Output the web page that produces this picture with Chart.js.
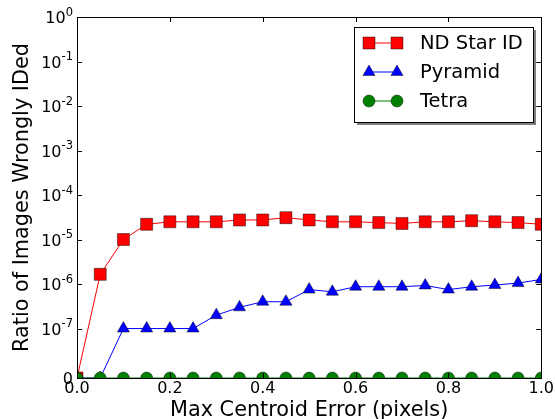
<!DOCTYPE html>
<html>
<head>
<meta charset="utf-8">
<script src="https://cdn.jsdelivr.net/npm/chart.js@4.4.1/dist/chart.umd.min.js"></script>
<style>
  body { margin: 0; background: #fff; }
</style>
</head>
<body>
<canvas id="chart" width="555" height="419"></canvas>
<script>
// Data
const centroidError = [0, 0.05, 0.1, 0.15, 0.2, 0.25, 0.3, 0.35, 0.4, 0.45, 0.5,
  0.55, 0.6, 0.65, 0.7, 0.75, 0.8, 0.85, 0.9, 0.95, 1.0];
const ndStarId = [0, 1.65e-6, 1.0e-5, 2.2e-5, 2.5e-5, 2.5e-5, 2.5e-5, 2.75e-5, 2.75e-5, 3.1e-5, 2.75e-5,
  2.5e-5, 2.5e-5, 2.4e-5, 2.3e-5, 2.5e-5, 2.5e-5, 2.65e-5, 2.5e-5, 2.4e-5, 2.2e-5];
const pyramid = [0, 0, 1e-7, 1e-7, 1e-7, 1e-7, 2e-7, 3e-7, 4e-7, 4e-7, 7.5e-7,
  6.7e-7, 8.7e-7, 8.7e-7, 8.7e-7, 9.3e-7, 7.5e-7, 8.7e-7, 9.5e-7, 1.05e-6, 1.27e-6];
const tetra = [0, 0, 0, 0, 0, 0, 0, 0, 0, 0, 0,
  0, 0, 0, 0, 0, 0, 0, 0, 0, 0];

const yTicks = [0, 1e-7, 1e-6, 1e-5, 1e-4, 1e-3, 1e-2, 1e-1, 1];
const yTickLabels = ['0', '10^-7', '10^-6', '10^-5', '10^-4', '10^-3', '10^-2', '10^-1', '10^0'];

// symlog axis, like matplotlib (linthresh 1e-7, linscale 1)
const LINTHRESH = 1e-7;
const LINSCALE = 1 / (1 - 1 / 10);
const fwd = v => v >= LINTHRESH ? Math.log10(v / LINTHRESH) + LINSCALE : (v / LINTHRESH) * LINSCALE;
const inv = t => t >= LINSCALE ? LINTHRESH * Math.pow(10, t - LINSCALE) : (t / LINSCALE) * LINTHRESH;

class SymlogScale extends Chart.Scale {
  static id = 'symlog';
  static defaults = {};
  determineDataLimits() {
    this.min = this.options.min;
    this.max = this.options.max;
  }
  buildTicks() {
    return yTicks.map(v => ({ value: v }));
  }
  getLabelForValue(v) {
    return String(v);
  }
  configure() {
    super.configure();
    this._t0 = fwd(this.min);
    this._t1 = fwd(this.max);
  }
  getPixelForValue(v) {
    if (v === null || isNaN(v)) return NaN;
    return this.getPixelForDecimal((fwd(v) - this._t0) / (this._t1 - this._t0));
  }
  getValueForPixel(p) {
    return inv(this._t0 + this.getDecimalForPixel(p) * (this._t1 - this._t0));
  }
}
Chart.register(SymlogScale);

Chart.defaults.font.family = 'DejaVu Sans';
Chart.defaults.color = '#000';

const toPoints = ys => centroidError.map((x, i) => ({ x: x, y: ys[i] }));

// inward ticks on all four sides, the box, and the 10^n labels with real superscripts
const framePlugin = {
  id: 'frame',
  afterDatasetsDraw(chart) {
    const { ctx, chartArea: a, scales } = chart;
    ctx.save();
    ctx.strokeStyle = '#000';
    ctx.lineWidth = 1;
    ctx.beginPath();
    scales.y.ticks.forEach(t => {
      const py = Math.round(scales.y.getPixelForValue(t.value)) + 0.5;
      ctx.moveTo(a.left, py); ctx.lineTo(a.left + 5, py);
      ctx.moveTo(a.right, py); ctx.lineTo(a.right - 5, py);
    });
    scales.x.ticks.forEach(t => {
      const px = Math.round(scales.x.getPixelForValue(t.value)) + 0.5;
      ctx.moveTo(px, a.bottom); ctx.lineTo(px, a.bottom - 5);
      ctx.moveTo(px, a.top); ctx.lineTo(px, a.top + 5);
    });
    ctx.stroke();
    ctx.strokeRect(Math.round(a.left) + 0.5, Math.round(a.top) + 0.5,
      Math.round(a.right - a.left), Math.round(a.bottom - a.top));

    // y tick labels
    ctx.fillStyle = '#000';
    ctx.textAlign = 'right';
    ctx.textBaseline = 'alphabetic';
    const xr = a.left - 4;
    scales.y.ticks.forEach(t => {
      const py = scales.y.getPixelForValue(t.value);
      const [base, exp] = yTickLabels[yTicks.indexOf(t.value)].split('^');
      if (exp === undefined) {
        ctx.font = '16px "DejaVu Sans"';
        ctx.fillText(base, xr, py + 6);
        return;
      }
      ctx.font = '11.5px "DejaVu Sans"';
      const ew = ctx.measureText(exp).width;
      ctx.fillText(exp, xr, py - 1.5);
      ctx.font = '16px "DejaVu Sans"';
      ctx.fillText(base, xr - ew, py + 6);
    });
    ctx.restore();
  }
};

// matplotlib style legend: line with two markers, shadowed box
const legendPlugin = {
  id: 'mplLegend',
  afterDraw(chart) {
    const { ctx } = chart;
    const box = { x: 354, y: 27, w: 179, h: 95 };
    ctx.save();
    ctx.fillStyle = '#7f7f7f';
    ctx.fillRect(box.x + 3, box.y + 3, box.w, box.h);
    ctx.fillStyle = '#fff';
    ctx.fillRect(box.x, box.y, box.w, box.h);
    ctx.strokeStyle = '#000';
    ctx.lineWidth = 1;
    ctx.strokeRect(box.x + 0.5, box.y + 0.5, box.w, box.h);
    chart.data.datasets.forEach((ds, i) => {
      const cy = 43 + i * 29;
      ctx.strokeStyle = ds.borderColor;
      ctx.lineWidth = ds.borderWidth;
      ctx.beginPath();
      ctx.moveTo(369, cy); ctx.lineTo(397, cy);
      ctx.stroke();
      [369, 397].forEach(cx => {
        ctx.fillStyle = ds.pointBackgroundColor;
        ctx.strokeStyle = ds.pointBorderColor;
        ctx.lineWidth = ds.pointBorderWidth;
        Chart.helpers.drawPoint(ctx, {
          pointStyle: ds.pointStyle, radius: ds.pointRadius, borderWidth: ds.pointBorderWidth, rotation: 0
        }, cx, cy);
      });
      ctx.fillStyle = '#000';
      ctx.font = '19.5px "DejaVu Sans"';
      ctx.textBaseline = 'middle';
      ctx.fillText(ds.label, 420, cy + 1);
    });
    ctx.restore();
  }
};

new Chart(document.getElementById('chart'), {
  type: 'line',
  data: {
    datasets: [
      {
        label: 'ND Star ID', data: toPoints(ndStarId),
        borderColor: '#ff0000', borderWidth: 1, pointStyle: 'rect', pointRadius: 8.5,
        pointBackgroundColor: '#ff0000', pointBorderColor: 'rgba(0,0,0,0.75)', pointBorderWidth: 0.6,
        order: 2, clip: 0
      },
      {
        label: 'Pyramid', data: toPoints(pyramid),
        borderColor: '#0000ff', borderWidth: 1, pointStyle: 'triangle', pointRadius: 7,
        pointBackgroundColor: '#0000ff', pointBorderColor: 'rgba(0,0,0,0.75)', pointBorderWidth: 0.6,
        order: 1, clip: 0
      },
      {
        label: 'Tetra', data: toPoints(tetra),
        borderColor: '#008000', borderWidth: 1, pointStyle: 'circle', pointRadius: 6,
        pointBackgroundColor: '#008000', pointBorderColor: 'rgba(0,0,0,0.75)', pointBorderWidth: 0.6,
        order: 0, clip: 0
      }
    ]
  },
  options: {
    responsive: false,
    animation: false,
    layout: { padding: { left: 0, top: 17, right: 13, bottom: 0 } },
    plugins: { legend: { display: false }, tooltip: { enabled: false } },
    scales: {
      x: {
        type: 'linear', min: 0, max: 1,
        afterFit(scale) { scale.height = 41; },
        ticks: { stepSize: 0.2, padding: 1, font: { size: 16 }, callback: v => v.toFixed(1) },
        grid: { display: false, drawTicks: false },
        border: { display: false },
        title: {
          display: true, text: 'Max Centroid Error (pixels)',
          font: { size: 20.8, lineHeight: 0.8 }, padding: { top: 0, bottom: 0 }
        }
      },
      y: {
        type: 'symlog', min: 0, max: 1,
        afterFit(scale) { scale.width = 77; },
        ticks: { display: false },
        grid: { display: false, drawTicks: false },
        border: { display: false },
        title: {
          display: true, text: 'Ratio of Images Wrongly IDed',
          font: { size: 20.8, lineHeight: 1 }, padding: { top: 12, bottom: 0 }
        }
      }
    }
  },
  plugins: [framePlugin, legendPlugin]
});
</script>
</body>
</html>
